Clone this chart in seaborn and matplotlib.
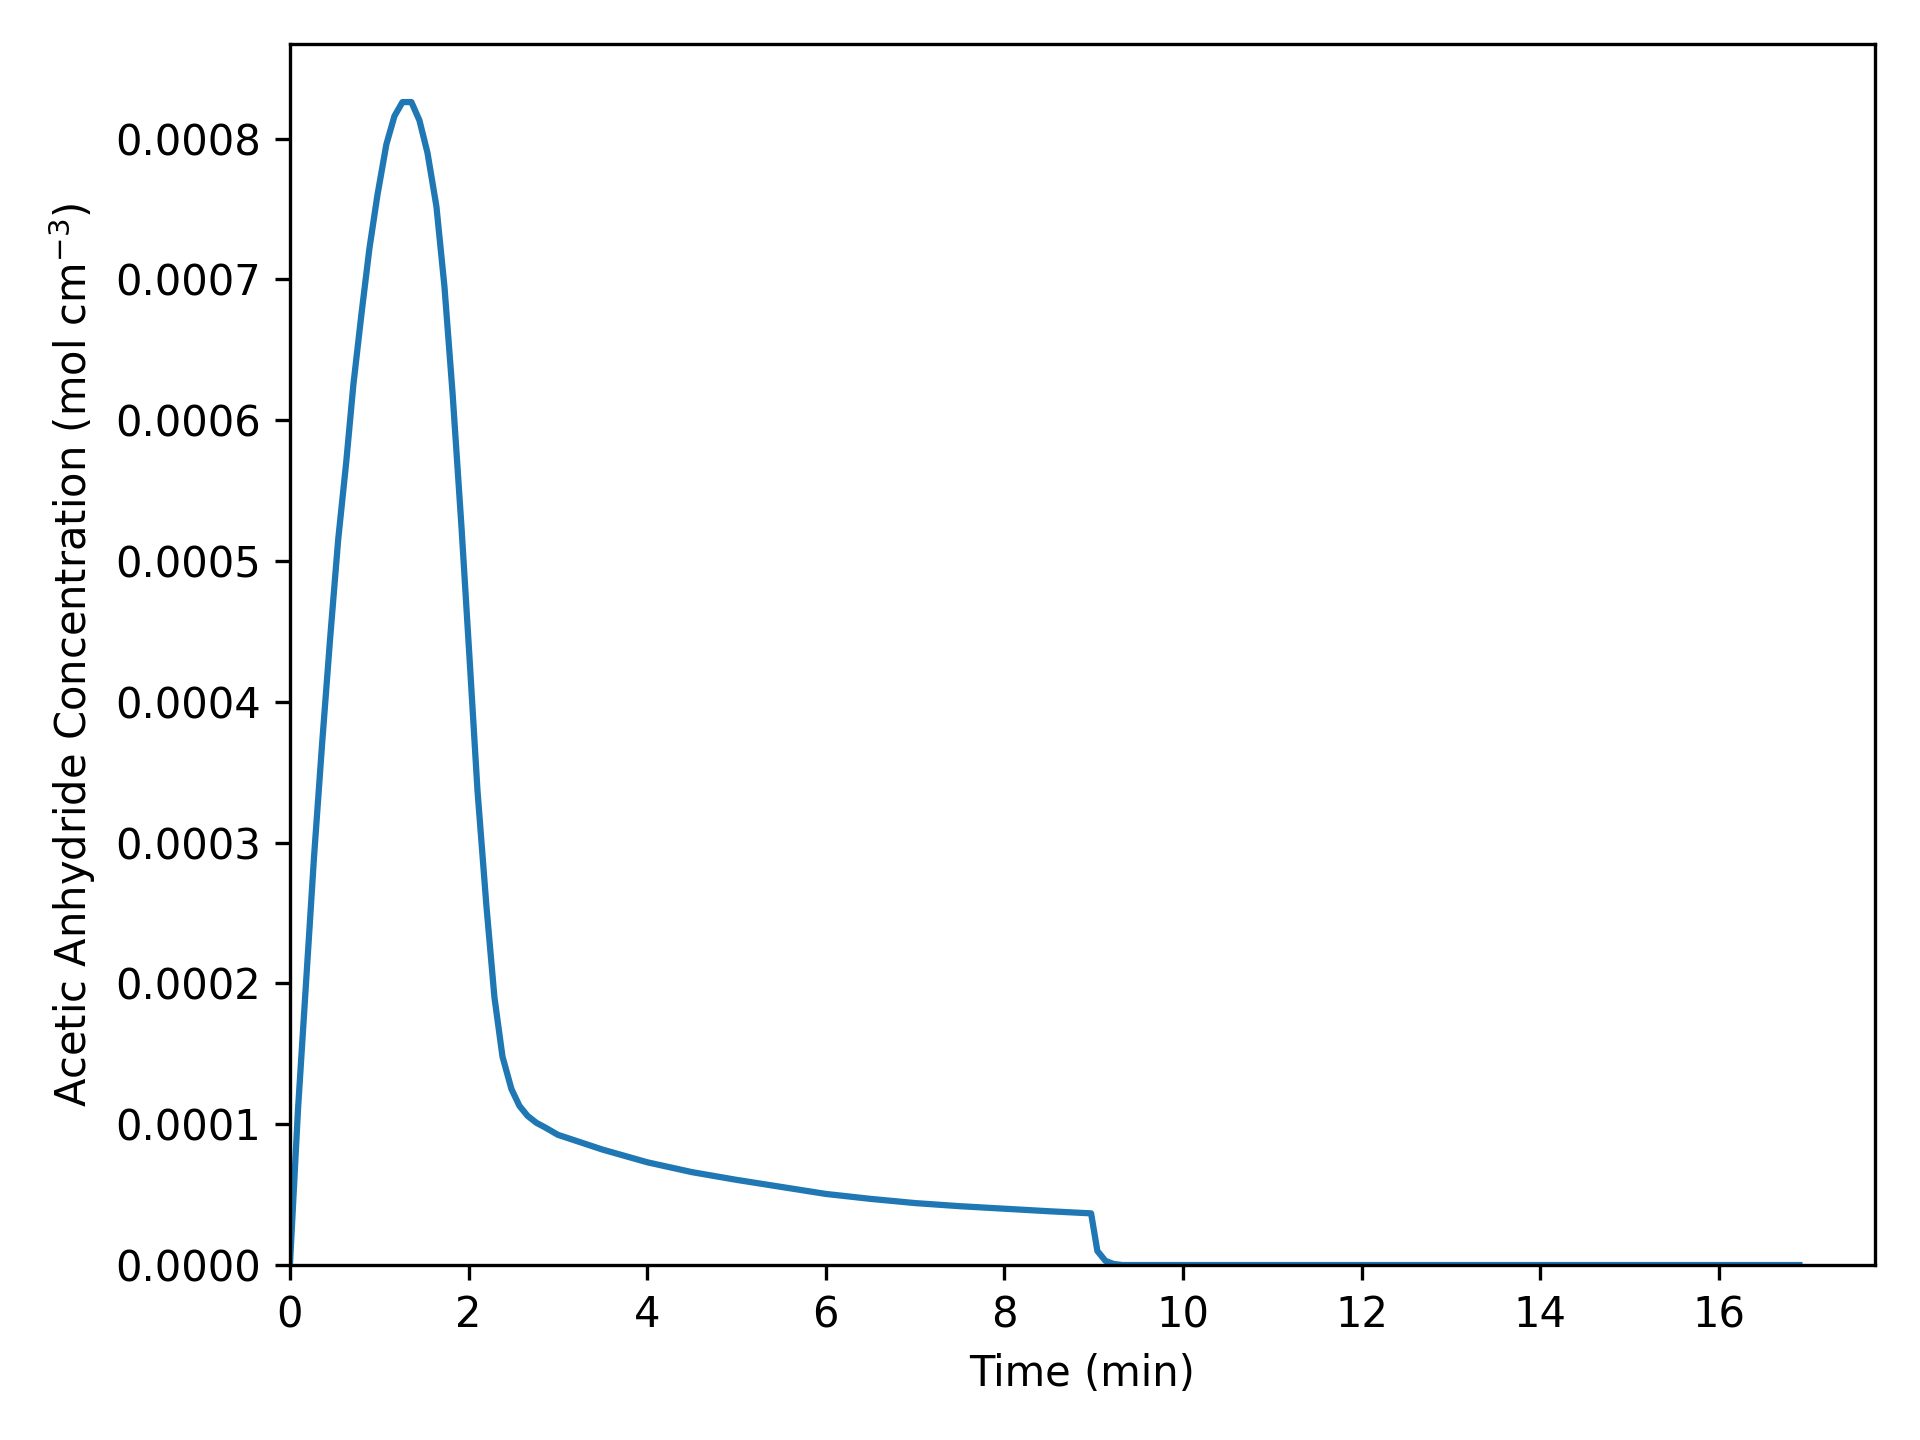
import pandas as pd
import matplotlib
matplotlib.use("Agg")
import matplotlib.pyplot as plt
import seaborn as sns

# time (min) and acetic anhydride concentration (mol cm^-3)
time_min = [
    0.0, 0.09, 0.18, 0.27, 0.36, 0.45, 0.54, 0.63, 0.71, 0.80, 0.89, 0.98,
    1.08, 1.17, 1.26, 1.36, 1.45, 1.54, 1.64, 1.73, 1.82, 1.92, 2.01, 2.10,
    2.20, 2.29, 2.38, 2.48, 2.57, 2.66, 2.76, 2.85, 3.0, 3.5, 4.0, 4.5, 5.0,
    5.5, 6.0, 6.5, 7.0, 7.5, 8.0, 8.5, 8.97, 9.04, 9.13, 9.22, 9.32, 12.0,
    16.9,
]
conc = [
    0.0, 0.000110, 0.000200, 0.000290, 0.000370, 0.000445, 0.000515,
    0.000570, 0.000625, 0.000675, 0.000722, 0.000760, 0.000796, 0.000816,
    0.000826, 0.000826, 0.000813, 0.000790, 0.000752, 0.000695, 0.000620,
    0.000525, 0.000432, 0.000337, 0.000255, 0.000190, 0.000148, 0.000125,
    0.000113, 0.000106, 0.000101, 0.000098, 0.0000925, 0.0000820,
    0.0000730, 0.0000660, 0.0000605, 0.0000555, 0.0000505, 0.0000470,
    0.0000440, 0.0000418, 0.0000400, 0.0000382, 0.0000367, 0.0000100,
    0.0000030, 0.0000008, 0.0, 0.0, 0.0,
]

df = pd.DataFrame({"time": time_min, "conc": conc})

fig = plt.figure(figsize=(6.4, 4.8), dpi=300)
ax = fig.add_axes([0.151, 0.1215, 0.8255, 0.848])

sns.lineplot(data=df, x="time", y="conc", ax=ax, color="#1f77b4", linewidth=1.5)

ax.set_xlim(left=0)
ax.set_ylim(bottom=0)
ax.set_xlabel("Time (min)")
ax.set_ylabel("Acetic Anhydride Concentration (mol cm$^{-3}$)")

fig.savefig("out.png", dpi=300)
